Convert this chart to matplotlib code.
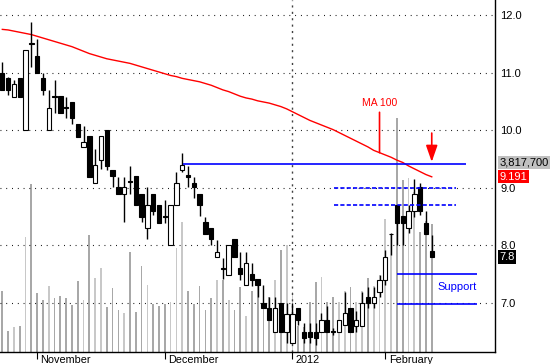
import numpy as np
import matplotlib
matplotlib.use("Agg")
import matplotlib.pyplot as plt
from matplotlib.transforms import ScaledTranslation, blended_transform_factory

plt.rcParams["font.family"] = ["Liberation Sans", "DejaVu Sans"]

# daily OHLC (one entry per trading day)
opens = [11.00, 10.90, 10.58, 10.90, 10.00, 11.52, 11.29, 10.90, 10.00, 10.59,
         10.59, 10.40, 10.49, 10.10, 9.70, 9.90, 9.09, 9.49, 10.00, 9.31,
         9.01, 8.89, 9.12, 9.20, 8.89, 8.30, 8.89, 8.70, 8.51, 8.00,
         8.70, 9.31, 9.22, 9.09, 8.90, 8.41, 8.30, 7.80, 7.61, 7.49,
         8.11, 7.60, 7.31, 7.50, 7.41, 7.00, 6.91, 6.49, 7.00, 6.49,
         6.30, 6.91, 6.50, 6.50, 6.50, 6.50, 6.70, 6.51, 6.50, 6.62,
         6.91, 6.60, 6.60, 7.11, 7.00, 7.20, 7.40, 8.19, 8.70, 8.51,
         8.30, 8.59, 9.01, 8.39, 7.90]
highs = [11.19, 10.92, 10.88, 10.90, 11.40, 11.88, 11.58, 10.99, 10.70, 10.88,
         10.59, 10.57, 10.49, 10.10, 10.07, 9.90, 9.67, 9.90, 10.00, 9.31,
         9.19, 9.19, 9.38, 9.20, 8.89, 9.01, 8.89, 8.70, 8.79, 8.70,
         9.28, 9.60, 9.38, 9.19, 8.90, 8.50, 8.30, 8.09, 7.79, 8.00,
         8.11, 7.89, 7.89, 7.69, 7.41, 7.31, 7.11, 7.10, 7.00, 7.00,
         7.00, 6.91, 6.66, 6.66, 6.66, 6.82, 6.95, 6.56, 6.70, 7.20,
         6.91, 6.87, 7.20, 7.28, 7.28, 7.49, 7.92, 8.21, 8.70, 8.51,
         8.70, 9.15, 9.09, 8.59, 8.18]
lows = [10.70, 10.61, 10.58, 10.58, 10.00, 11.10, 11.00, 10.61, 10.00, 10.30,
        10.29, 10.21, 10.11, 9.89, 9.70, 9.19, 9.09, 9.32, 9.31, 9.01,
        8.89, 8.41, 8.90, 8.70, 8.41, 8.12, 8.52, 8.39, 8.39, 8.00,
        8.70, 9.28, 9.02, 8.82, 8.51, 8.20, 8.00, 7.80, 7.41, 7.49,
        7.80, 7.40, 7.31, 7.29, 7.11, 6.91, 6.70, 6.49, 6.49, 6.31,
        6.30, 6.62, 6.31, 6.30, 6.28, 6.50, 6.50, 6.45, 6.50, 6.62,
        6.50, 6.50, 6.60, 6.91, 6.91, 7.11, 7.31, 7.83, 8.00, 8.00,
        8.21, 8.50, 8.53, 8.20, 7.80]
closes = [10.70, 10.70, 10.80, 10.58, 11.40, 11.50, 11.00, 10.70, 10.39, 10.57,
          10.29, 10.38, 10.21, 9.89, 9.80, 9.19, 9.40, 9.90, 9.38, 9.20,
          8.89, 9.01, 9.10, 8.70, 8.50, 8.70, 8.59, 8.39, 8.49, 8.70,
          9.09, 9.40, 9.19, 9.01, 8.70, 8.20, 8.11, 7.89, 7.59, 8.00,
          7.80, 7.50, 7.70, 7.40, 7.31, 6.91, 6.70, 6.91, 6.49, 6.81,
          6.81, 6.70, 6.40, 6.41, 6.40, 6.70, 6.50, 6.49, 6.70, 6.82,
          6.50, 6.70, 7.00, 7.00, 7.11, 7.40, 7.80, 8.20, 8.39, 8.39,
          8.59, 8.89, 8.60, 8.20, 7.80]
# volume in millions of shares
volume_m = [1.23, 0.42, 0.51, 0.53, 2.32, 3.39, 1.19, 1.05, 1.32, 1.08,
            1.13, 1.08, 0.95, 1.43, 1.05, 2.36, 1.49, 1.70, 0.91, 1.28,
            0.85, 0.78, 2.02, 0.81, 1.73, 1.34, 0.97, 0.93, 0.96, 1.01,
            2.09, 2.61, 1.23, 0.97, 1.33, 0.85, 1.09, 1.45, 1.45, 1.05,
            0.85, 1.30, 0.73, 1.22, 1.46, 0.91, 1.10, 1.46, 2.06, 2.16,
            1.20, 0.52, 0.51, 1.00, 1.40, 1.52, 1.00, 1.10, 1.00, 1.22,
            1.30, 1.00, 1.22, 1.50, 1.32, 1.55, 2.67, 2.38, 4.71, 3.47,
            3.50, 3.23, 2.42, 2.63, 2.58]
ma100 = [11.75, 11.74, 11.72, 11.70, 11.68, 11.66, 11.63, 11.60, 11.57, 11.54,
         11.51, 11.48, 11.45, 11.41, 11.37, 11.33, 11.30, 11.27, 11.24, 11.22,
         11.20, 11.18, 11.16, 11.13, 11.10, 11.07, 11.04, 11.01, 10.98, 10.95,
         10.93, 10.90, 10.88, 10.86, 10.84, 10.81, 10.78, 10.74, 10.70, 10.67,
         10.63, 10.59, 10.56, 10.54, 10.51, 10.49, 10.47, 10.44, 10.41, 10.37,
         10.32, 10.27, 10.22, 10.17, 10.13, 10.09, 10.05, 10.01, 9.96, 9.91,
         9.86, 9.81, 9.76, 9.71, 9.65, 9.61, 9.57, 9.53, 9.48, 9.44,
         9.38, 9.33, 9.28, 9.23, 9.191]

month_pos = [6, 28, 50, 66]
month_labels = ["November", "December", "2012", "February"]
price_ticks = [7.0, 8.0, 9.0, 10.0, 11.0, 12.0]
resistance = 9.41
channel = [9.00, 8.71]
support = [7.51, 6.99]
last_volume = 3817700

x = np.arange(len(closes))
o, h, l, c = map(np.array, (opens, highs, lows, closes))
up = c >= o

fig = plt.figure(figsize=(5.5, 3.64), dpi=100)
ax = fig.add_axes([0, 12 / 364, 495 / 550, 352 / 364])
vax = ax.twinx()
ax.set_zorder(vax.get_zorder() + 1)
ax.patch.set_visible(False)

# volume behind the candles
vax.bar(x, volume_m, width=0.3, color=np.where(up, "#c8c8c8", "#a8a8a8"), lw=0)
vax.set_ylim(0, 7.09)
vax.set_yticks([])
for s in vax.spines.values():
    s.set_visible(False)

# grid
for v in price_ticks:
    ax.axhline(v, color="black", lw=0.8, ls=(0, (0.8, 4.4)), zorder=1)
ax.axvline(49.9, color="#404040", lw=1, ls=(0, (1.5, 3.1)), zorder=1)

# moving average
ax.plot(x, ma100, color="#ff0000", lw=1.0, zorder=2)

# candles
ax.vlines(x, l, h, color="black", lw=1, zorder=3)
body = np.maximum(np.abs(c - o), 0.015)
ax.bar(x, body, bottom=np.minimum(o, c), width=0.75,
       color=np.where(up, "white", "black"), edgecolor="black", lw=0.8, zorder=4)

# drawn lines
blue = "#0000ff"
ax.hlines(resistance, 31.1, 79.9, color=blue, lw=1.2, zorder=5)
ax.hlines(channel, 57.1, 78.1, color=blue, lw=1.2, linestyles=[(0, (2.5, 1.3))], zorder=5)
ax.hlines(support, 68, 81.8, color=blue, lw=1.2, zorder=5)
ax.text(78.3, 7.28, "Support", color=blue, fontsize=8, ha="center", va="center")

ax.annotate("MA 100", xy=(65, ma100[65]), xytext=(65, 10.47), color="#ff0000",
            fontsize=7.5, ha="center", va="center",
            arrowprops=dict(arrowstyle="-", color="#ff0000", lw=1.2, shrinkA=1, shrinkB=0))
ax.annotate("", xy=(74, 9.45), xytext=(74, 9.95),
            arrowprops=dict(arrowstyle="-|>,head_length=1.0,head_width=0.35",
                            mutation_scale=10, color="#ff0000", lw=1.2,
                            shrinkA=0, shrinkB=0))

# axes
ax.set_xlim(-0.4, 84.9)
ax.set_ylim(6.15, 12.26)
ax.yaxis.tick_right()
ax.set_yticks(price_ticks, [f"{v:.1f}" for v in price_ticks])
ax.tick_params(axis="y", length=0, pad=4, labelsize=8)
ax.set_xticks(month_pos, month_labels)
ax.tick_params(axis="x", length=4.7, width=0.8, pad=-2.6, labelsize=7.8)
shift = ScaledTranslation(2.4 / 72, 0, fig.dpi_scale_trans)
for lbl in ax.get_xticklabels():
    lbl.set_horizontalalignment("left")
    lbl.set_transform(lbl.get_transform() + shift)
for side in ("top", "left"):
    ax.spines[side].set_visible(False)
ax.spines["right"].set_linewidth(1)
ax.spines["bottom"].set_linewidth(1)

# value boxes on the right
tp = blended_transform_factory(ax.transAxes, ax.transData)
tv = blended_transform_factory(vax.transAxes, vax.transData)
ax.text(1.009, ma100[-1], f"{ma100[-1]:.3f}", transform=tp, color="white", fontsize=8,
        va="center", ha="left", bbox=dict(boxstyle="square,pad=0.15", fc="#ff0000", ec="none"))
ax.text(1.009, closes[-1], f"{closes[-1]:.1f}", transform=tp, color="white", fontsize=8,
        va="center", ha="left", bbox=dict(boxstyle="square,pad=0.15", fc="black", ec="none"))
vax.text(1.009, last_volume / 1e6, f"{last_volume:,}", transform=tv, color="black",
         fontsize=8, va="center", ha="left",
         bbox=dict(boxstyle="square,pad=0.15", fc="#c0c0c0", ec="none"))

fig.savefig("out.png", dpi=100)
